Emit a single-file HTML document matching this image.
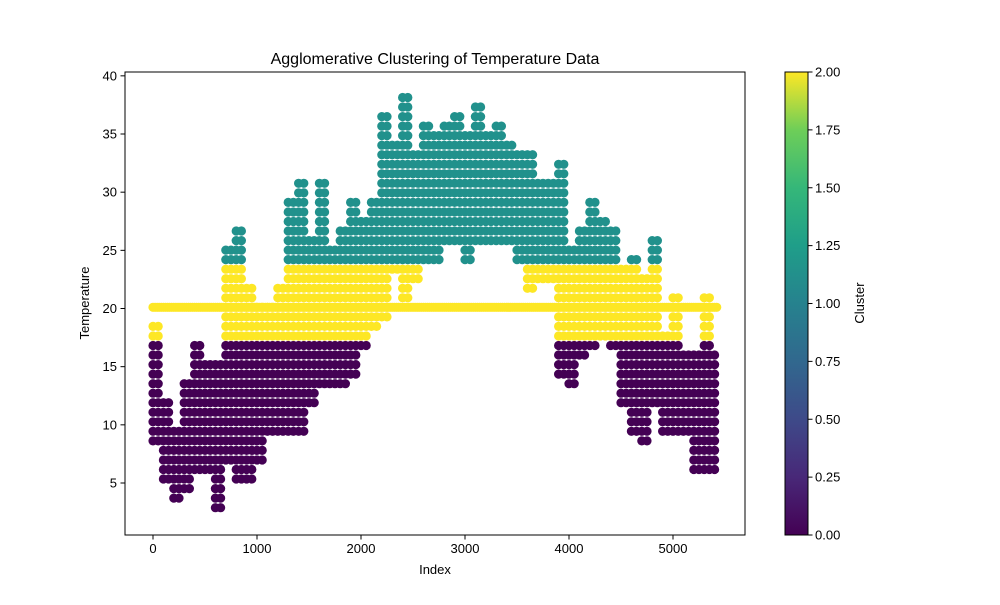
<!DOCTYPE html>
<html><head><meta charset="utf-8"><style>
body{margin:0;background:#fff;font-family:"Liberation Sans","DejaVu Sans",sans-serif}
</style></head><body>
<svg id="chart" width="1000" height="600" xmlns="http://www.w3.org/2000/svg">
<defs><linearGradient id="vir" x1="0" y1="1" x2="0" y2="0">
<stop offset="0" stop-color="#440154"/><stop offset="0.125" stop-color="#482878"/><stop offset="0.25" stop-color="#3e4a89"/><stop offset="0.375" stop-color="#31688e"/><stop offset="0.5" stop-color="#26828e"/><stop offset="0.625" stop-color="#1f9e89"/><stop offset="0.75" stop-color="#35b779"/><stop offset="0.875" stop-color="#6ece58"/><stop offset="1" stop-color="#fde725"/></linearGradient>
<clipPath id="pc"><rect x="125" y="72" width="620" height="463"/></clipPath></defs>
<text x="435" y="64" font-size="16" text-anchor="middle">Agglomerative Clustering of Temperature Data</text>
<g id="marks" clip-path="url(#pc)"></g>
<rect x="125" y="72" width="620" height="463" fill="none" stroke="#000" stroke-width="1"/>
<g id="axes" font-size="13"></g>
<text x="435" y="574" font-size="13" text-anchor="middle">Index</text>
<text x="89" y="303" font-size="13" text-anchor="middle" transform="rotate(-90 89 303)">Temperature</text>
<rect x="785" y="72" width="23" height="463" fill="url(#vir)" stroke="#000" stroke-width="1"/>
<text x="864" y="303" font-size="13" text-anchor="middle" transform="rotate(-90 864 303)">Cluster</text>
</svg>
<script>
const binIndex=[0,100,200,300,400,500,600,700,800,900,1000,1100,1200,1300,1400,1500,1600,1700,1800,1900,2000,2100,2200,2300,2400,2500,2600,2700,2800,2900,3000,3100,3200,3300,3400,3500,3600,3700,3800,3900,4000,4100,4200,4300,4400,4500,4600,4700,4800,4900,5000,5100,5200,5300,5400];
const binMin=[8.5,5,3.3,4.1,5.9,5.9,2.4,6.7,5,5,7.2,9,9.6,9.6,9.6,12.1,13.6,13.7,13.7,14.1,16.4,17.9,19.5,23.6,21,22,24,24,26,25.3,23.9,26,26,25.3,25.3,24.4,21.5,22.2,22.2,14.1,13.7,16.2,17,17.6,16.4,11.9,9.6,8.1,11.9,9,9,9,5.9,5.9,5.9];
const binMax=[19,12.4,9.3,14.1,16.6,15,15,25,27,22.2,20,20,22.2,29,31.3,26,30.6,24.8,26.8,29.6,27.4,29.6,37,34.5,38.6,33.6,36.2,35.4,36.2,37,35.4,37.8,35.4,35.6,34,33.6,33,30.8,30.8,32.2,24.8,26.5,29.6,27.4,26.5,23.3,24.2,22.7,25.6,17.6,20.7,16.4,16.4,21.3,16.4];
const baselineTemp=20.1, baselineStart=0, baselineEnd=5420;
const xTicks=[0,1000,2000,3000,4000,5000];
const yTicks=[5,10,15,20,25,30,35,40];
const cbTicks=["0.00","0.25","0.50","0.75","1.00","1.25","1.50","1.75","2.00"];
const X=v=>153+v*0.104, Y=t=>483-(t-5)*11.633;
const step=0.82;
const col=t=>t<17.2?'#440154':(t<23.8?'#fde725':'#21918c');
const NS='http://www.w3.org/2000/svg';
const marks=document.getElementById('marks'), axes=document.getElementById('axes');
function dot(x,t){const c=document.createElementNS(NS,'circle');
c.setAttribute('cx',X(x).toFixed(1));c.setAttribute('cy',Y(t).toFixed(1));c.setAttribute('r',4.6);c.setAttribute('fill',col(t));


marks.appendChild(c);}
// baseline
for(let x=baselineStart;x<=baselineEnd;x+=20)dot(x,baselineTemp);
binIndex.forEach((bx,i)=>{
 const kLo=Math.ceil((binMin[i]-baselineTemp)/step-0.3), kHi=Math.floor((binMax[i]-baselineTemp)/step+0.3);
 for(const off of [0,50]){ if(bx+off>5420)continue;
  for(let k=kLo;k<=kHi;k++)dot(bx+off,baselineTemp+k*step);}
});
function line(x1,y1,x2,y2){const l=document.createElementNS(NS,'line');l.setAttribute('x1',x1);l.setAttribute('y1',y1);l.setAttribute('x2',x2);l.setAttribute('y2',y2);l.setAttribute('stroke','#000');


axes.appendChild(l);}
function txt(x,y,s,a,name){const t=document.createElementNS(NS,'text');t.setAttribute('x',x);t.setAttribute('y',y);t.setAttribute('text-anchor',a);t.textContent=s;


axes.appendChild(t);}
xTicks.forEach(v=>{const x=X(v);line(x,535,x,539.5);txt(x,553,String(v),'middle','x-tick-label');});
yTicks.forEach(v=>{const y=Y(v);line(120.5,y,125,y);txt(117,y+4.5,String(v),'end','y-tick-label');});
cbTicks.forEach((s,i)=>{const y=535-i*463/8;line(808,y,812.5,y);txt(815,y+4.5,s,'start','colorbar-tick-label');});
</script>
</body></html>
